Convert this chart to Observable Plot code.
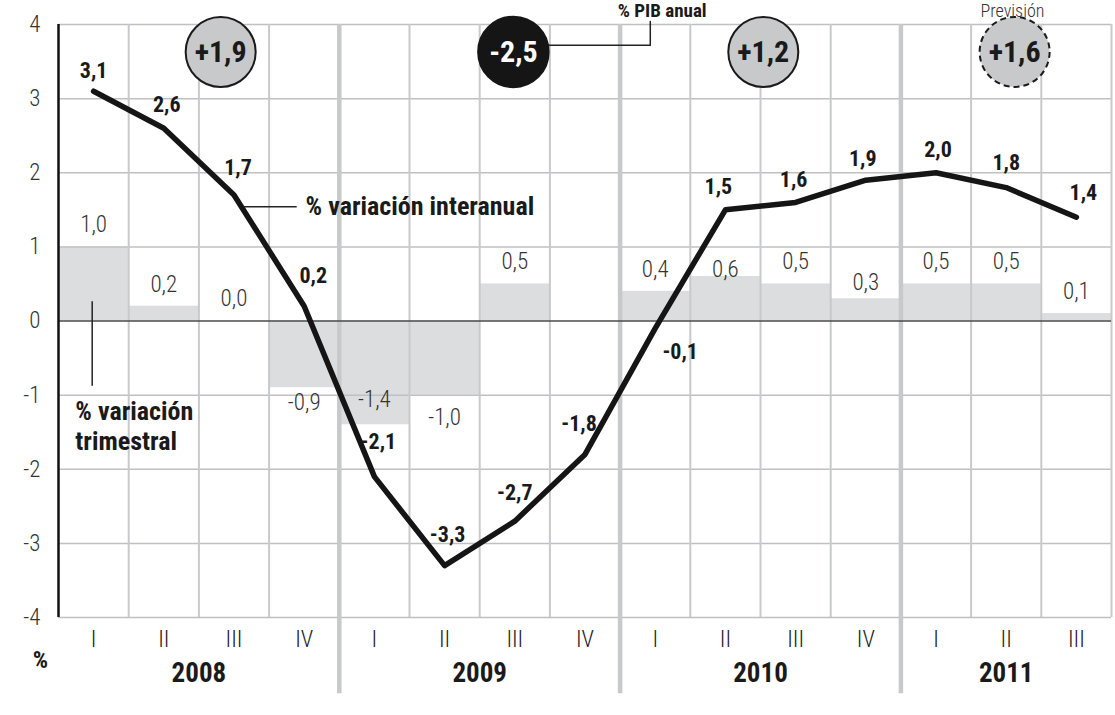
<!DOCTYPE html>
<html><head><meta charset="utf-8">
<script src="https://cdn.jsdelivr.net/npm/d3@7"></script>
<script src="https://cdn.jsdelivr.net/npm/@observablehq/plot@0.6"></script>
<style>
html,body{margin:0;padding:0;background:#fff;}
svg text{font-stretch:condensed;}
</style></head><body><div id="chart"></div>
<script>
// ---- data ----
const quarters = ["I","II","III","IV","I","II","III","IV","I","II","III","IV","I","II","III"];
const years = ["2008","2009","2010","2011"];
const quarterlyChange = [1.0, 0.2, 0.0, -0.9, -1.4, -1.0, 0.5, null, 0.4, 0.6, 0.5, 0.3, 0.5, 0.5, 0.1];
const annualChange = [3.1, 2.6, 1.7, 0.2, -2.1, -3.3, -2.7, -1.8, -0.1, 1.5, 1.6, 1.9, 2.0, 1.8, 1.4];
const gdpAnnual = [1.9, -2.5, 1.2, 1.6];
const gdpForecast = [false, false, false, true];
const yTicks = [-4, -3, -2, -1, 0, 1, 2, 3, 4];

// ---- helpers ----
const fmt = v => v.toFixed(1).replace(".", ",");
const fmtSigned = v => (v > 0 ? "+" : "") + fmt(v);
const BOLD = "'Roboto Condensed','Liberation Sans Narrow','DejaVu Sans Condensed','Open Sans',sans-serif";
const LIGHT = "'Roboto Condensed','Liberation Sans Narrow','DejaVu Sans Condensed','Open Sans',sans-serif";

const rows = quarters.map((q, i) => ({i, q, year: years[Math.floor(i / 4)], tri: quarterlyChange[i], inter: annualChange[i]}));
const barRows = rows.filter(d => d.tri != null);
const yearRows = years.map((y, k) => ({y, start: k * 4, end: Math.min(k * 4 + 4, quarters.length)}));

// ---- layout (label offsets in px) ----
const lineLabelDx = [0, 3, 4, 9, 4, 3, 0, -6, 25, -7, -2, -3, 2, 0, 7];
const lineLabelDy = [-20, -23, -27, -30, -35, -31, -28, -30, 24, -23, -22, -21, -23, -25, -24];
const barLabelDy = d => d.i === 4 ? -25 : d.i === 9 ? -7 : d.i === 11 ? -16 : d.tri >= 0 ? -22 : (d.i === 5 ? 22 : 15);
const circleX = [2.31, 6.48, 10.04, 13.62];
const circleY = 3.63;
const annual = gdpAnnual.map((v, k) => ({v, x: circleX[k], forecast: gdpForecast[k]}));
const bottom = -4;

const chart = Plot.plot({
  width: 1115, height: 715,
  marginLeft: 58, marginRight: 4, marginTop: 24, marginBottom: 98,
  x: {domain: [0, quarters.length], axis: null},
  y: {domain: [-4, 4], axis: null},
  style: {background: "white"},
  marks: [
    // bars
    Plot.rect(barRows, {x1: d => d.i, x2: d => d.i + 1, y1: 0, y2: "tri", fill: "#dcdddf"}),
    // horizontal grid
    Plot.ruleY(yTicks.filter(t => t !== 0), {x1: 0, x2: quarters.length, stroke: "#bfc0c2", strokeWidth: 1.5}),
    // quarter separators
    Plot.ruleX(d3.range(1, quarters.length + 1).filter(k => k % 4 !== 0), {y1: bottom, y2: 4, stroke: "#c8c9cb", strokeWidth: 2}),
    // year separators
    Plot.ruleX([4, 8, 12], {y1: -5.03, y2: 4, stroke: "#c8c9cb", strokeWidth: 4.5}),
    // zero line
    Plot.ruleY([0], {x1: 0, x2: quarters.length, stroke: "#4a4a4a", strokeWidth: 1.5}),
    // left axis line
    Plot.ruleX([0], {y1: bottom, y2: 4, stroke: "#111", strokeWidth: 2.5}),
    // y tick labels
    Plot.text(yTicks, {x: 0, y: d => d, text: d => String(d), textAnchor: "end", dx: -18, fontSize: 23, fontWeight: 300, fontFamily: LIGHT, fill: "#333"}),
    // quarter labels
    Plot.text(rows, {x: d => d.i + 0.5, y: bottom, text: "q", dy: 22, fontSize: 23, fontWeight: 300, fontFamily: LIGHT, fill: "#222"}),
    // year labels
    Plot.text(yearRows, {x: d => (d.start + d.end) / 2, y: bottom, text: "y", dy: 56, fontSize: 27, fontWeight: 700, fontFamily: BOLD, fill: "#1a1a1a"}),
    Plot.text(["%"], {x: 0, y: bottom, text: d => d, dx: -18, dy: 43, fontSize: 24, fontWeight: 700, fontFamily: BOLD, fill: "#1a1a1a"}),
    // bar labels
    ...barRows.map(d => Plot.text([d], {x: r => r.i + 0.5, y: "tri", text: r => fmt(r.tri), dy: barLabelDy(d), fontSize: 23, fontWeight: 300, fontFamily: LIGHT, fill: "#333"})),
    // interannual line
    Plot.line(rows, {x: d => d.i + 0.5, y: "inter", stroke: "#151515", strokeWidth: 5.5}),
    // line labels
    ...rows.map(d => Plot.text([d], {x: r => r.i + 0.5, y: "inter", text: r => fmt(r.inter), dx: lineLabelDx[d.i], dy: lineLabelDy[d.i], fontSize: 22, fontWeight: 700, fontFamily: BOLD, fill: "#1a1a1a"})),
    // annotation: interanual
    Plot.ruleY([1.54], {x1: 2.64, x2: 3.40, stroke: "#222", strokeWidth: 1.5}),
    Plot.text(["% variación interanual"], {x: 3.52, y: 1.54, text: d => d, textAnchor: "start", fontSize: 26, fontWeight: 700, fontFamily: BOLD, fill: "#1a1a1a"}),
    // annotation: trimestral
    Plot.ruleX([0.48], {y1: 0.26, y2: -0.88, stroke: "#222", strokeWidth: 1.5}),
    Plot.text(["% variación\ntrimestral"], {x: 0.24, y: -1.41, text: d => d, textAnchor: "start", lineHeight: 1.15, fontSize: 26, fontWeight: 700, fontFamily: BOLD, fill: "#1a1a1a"}),
    // annual GDP circles
    Plot.dot(annual.filter(d => !d.forecast && d.v >= 0), {x: "x", y: circleY, r: 35, fill: "#c8c9cb", stroke: "#1a1a1a", strokeWidth: 2}),
    Plot.dot(annual.filter(d => d.v < 0), {x: "x", y: circleY, r: 35.5, fill: "#151515", stroke: "#151515"}),
    Plot.dot(annual.filter(d => d.forecast), {x: "x", y: circleY, r: 35, fill: "#c8c9cb", stroke: "#1a1a1a", strokeWidth: 2, strokeDasharray: "6,4"}),
    Plot.text(annual, {x: "x", y: circleY, text: d => fmtSigned(d.v), fill: d => d.v < 0 ? "white" : "#1a1a1a", fontSize: 30, fontWeight: 700, fontFamily: BOLD}),
    // "% PIB anual" leader
    Plot.line([{x: circleX[1] + 0.51, y: 3.72}, {x: 8.43, y: 3.72}, {x: 8.43, y: 4.04}], {x: "x", y: "y", stroke: "#222", strokeWidth: 1.5}),
    Plot.text(["% PIB anual"], {x: 8.6, y: 4.1, text: d => d, lineAnchor: "bottom", fontSize: 19, fontWeight: 700, fontFamily: BOLD, fill: "#1a1a1a"}),
    Plot.text(["Previsión"], {x: 13.59, y: 4.1, text: d => d, lineAnchor: "bottom", fontSize: 18, fontWeight: 300, fontFamily: LIGHT, fill: "#333"})
  ]
});
document.getElementById("chart").appendChild(chart);
</script></body></html>
